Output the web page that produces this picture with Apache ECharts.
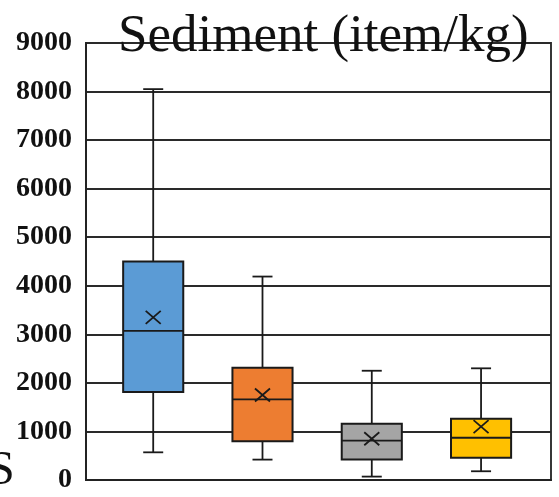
<!DOCTYPE html>
<html>
<head>
<meta charset="utf-8">
<script src="https://cdn.jsdelivr.net/npm/echarts@6/dist/echarts.min.js"></script>
<style>
  html, body { margin: 0; padding: 0; background: #fff; }
  #chart { width: 559px; height: 497px; }
</style>
</head>
<body>
<div id="chart"></div>
<script>
// Sediment microplastic abundance, one box per group (item/kg)
const groups   = [1, 2, 3, 4];
const mins     = [570, 420, 70, 180];
const q1s      = [1810, 800, 420, 460];
const medians  = [3070, 1660, 810, 870];
const q3s      = [4500, 2310, 1160, 1260];
const maxs     = [8050, 4190, 2250, 2300];
const means    = [3350, 1750, 850, 1100];
const colors   = ['#5B9BD5', '#ED7D31', '#A5A5A5', '#FFC000'];
const yTicks   = [0, 1000, 2000, 3000, 4000, 5000, 6000, 7000, 8000, 9000];

const rows = groups.map((g, i) => [g, mins[i], q1s[i], medians[i], q3s[i], maxs[i], means[i]]);

const chart = echarts.init(document.getElementById('chart'), null, { renderer: 'canvas' });

function renderBox(params, api) {
  const x = api.value(0);
  const pMin = api.coord([x, api.value(1)]);
  const pQ1 = api.coord([x, api.value(2)]);
  const pMed = api.coord([x, api.value(3)]);
  const pQ3 = api.coord([x, api.value(4)]);
  const pMax = api.coord([x, api.value(5)]);
  const pMean = api.coord([x, api.value(6)]);
  const half = api.size([0.55, 0])[0] / 2;
  const cap = 10;
  const cx = pMin[0];
  const line = { stroke: '#1a1a1a', lineWidth: 1.8 };
  return {
    type: 'group',
    children: [
      { type: 'line', shape: { x1: cx, y1: pMax[1], x2: cx, y2: pQ3[1] }, style: line },
      { type: 'line', shape: { x1: cx, y1: pQ1[1], x2: cx, y2: pMin[1] }, style: line },
      { type: 'line', shape: { x1: cx - cap, y1: pMax[1], x2: cx + cap, y2: pMax[1] }, style: line },
      { type: 'line', shape: { x1: cx - cap, y1: pMin[1], x2: cx + cap, y2: pMin[1] }, style: line },
      { type: 'rect', shape: { x: cx - half, y: pQ3[1], width: half * 2, height: pQ1[1] - pQ3[1] },
        style: { fill: colors[params.dataIndex], stroke: '#1a1a1a', lineWidth: 2 } },
      { type: 'line', shape: { x1: cx - half, y1: pMed[1], x2: cx + half, y2: pMed[1] }, style: line },
      { type: 'line', shape: { x1: pMean[0] - 7.5, y1: pMean[1] - 6.5, x2: pMean[0] + 7.5, y2: pMean[1] + 6.5 },
        style: { stroke: '#1a1a1a', lineWidth: 1.8 } },
      { type: 'line', shape: { x1: pMean[0] + 7.5, y1: pMean[1] - 6.5, x2: pMean[0] - 7.5, y2: pMean[1] + 6.5 },
        style: { stroke: '#1a1a1a', lineWidth: 1.8 } }
    ]
  };
}

chart.setOption({
  backgroundColor: '#ffffff',
  animation: false,
  title: {
    text: 'Sediment (item/kg)',
    left: 113,
    top: 6,
    textStyle: { fontFamily: 'Liberation Serif', fontWeight: 'normal', fontSize: 53, color: '#111' }
  },
  graphic: [
    {
      type: 'text',
      left: -12,
      top: 447,
      style: { text: 'S', font: '48px "Liberation Serif"', fill: '#111' }
    }
  ],
  grid: {
    left: 86, right: 8, top: 43, bottom: 17,
    show: true, borderColor: '#222', borderWidth: 1.8, backgroundColor: 'transparent'
  },
  xAxis: {
    type: 'value',
    min: 0.385,
    max: 4.64,
    axisLine: { show: true, lineStyle: { color: '#222', width: 1.8 } },
    axisTick: { show: false },
    axisLabel: { show: false },
    splitLine: { show: false }
  },
  yAxis: {
    type: 'value',
    min: yTicks[0],
    max: yTicks[yTicks.length - 1],
    interval: 1000,
    axisLine: { show: true, lineStyle: { color: '#222', width: 1.8 } },
    axisTick: { show: false },
    axisLabel: {
      margin: 14,
      fontFamily: 'Liberation Serif',
      fontWeight: 'bold',
      fontSize: 28,
      color: '#111',
      formatter: (v) => String(v)
    },
    splitLine: { show: true, lineStyle: { color: '#2a2a2a', width: 1.8 } }
  },
  series: [
    {
      type: 'custom',
      renderItem: renderBox,
      encode: { x: 0, y: [1, 2, 3, 4, 5, 6] },
      data: rows,
      z: 5
    }
  ]
});
</script>
</body>
</html>
